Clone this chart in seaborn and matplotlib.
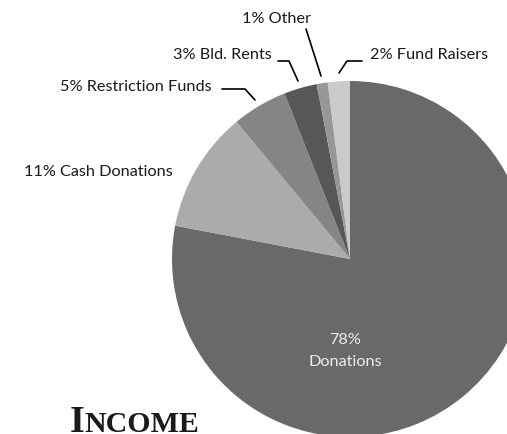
import matplotlib
matplotlib.use("Agg")
import matplotlib.pyplot as plt
import seaborn as sns

# income shares, clockwise from 12 o'clock
categories = ["Donations", "Cash Donations", "Restriction Funds", "Bld. Rents", "Other", "Fund Raisers"]
shares = [78, 11, 5, 3, 1, 2]
grays = ["#696969", "#ababab", "#858585", "#575757", "#979797", "#cacaca"]

W, H = 507, 434

sns.set_theme(style="white")
plt.rcParams["font.family"] = ["Lato", "DejaVu Sans"]

fig = plt.figure(figsize=(W / 100, H / 100), dpi=100)
ax = fig.add_axes([0, 0, 1, 1])

def py(y):
    # pixel row -> data y
    return H - y

ax.pie(shares, colors=grays, startangle=90, counterclock=False,
       center=(350, py(259)), radius=178, wedgeprops=dict(linewidth=0))

ax.set_xlim(0, W)
ax.set_ylim(0, H)
ax.set_aspect("equal")
ax.axis("off")

fs = 11.7
txt = dict(fontsize=fs, color="#1a1a1a")

# outside labels with leader lines
ax.text(276, py(19), f"{shares[4]}% {categories[4]}", ha="center", va="center", **txt)
ax.plot([306, 321], [py(29), py(76)], color="black", lw=1.2)

ax.text(272, py(55), f"{shares[3]}% {categories[3]}", ha="right", va="center", **txt)
ax.plot([278, 289, 298], [py(61), py(61), py(81)], color="black", lw=1.2)

ax.text(370, py(55), f"{shares[5]}% {categories[5]}", ha="left", va="center", **txt)
ax.plot([362, 347, 339], [py(61), py(61), py(73)], color="black", lw=1.2)

ax.text(212, py(87), f"{shares[2]}% {categories[2]}", ha="right", va="center", **txt)
ax.plot([222, 245, 255], [py(89), py(89), py(100)], color="black", lw=1.2)

ax.text(173, py(172), f"{shares[1]}% {categories[1]}", ha="right", va="center", **txt)

# label inside the big slice
ax.text(345, py(340), f"{shares[0]}%", ha="center", va="center", fontsize=fs, color="#ececec")
ax.text(345, py(362), categories[0], ha="center", va="center", fontsize=fs, color="#ececec")

# small-caps title at the bottom edge
ax.text(70, py(432), "I", ha="left", va="baseline", fontsize=27.5,
        family="Liberation Serif", weight="bold", color="#1a1a1a")
ax.text(84, py(432), "NCOME", ha="left", va="baseline", fontsize=21.5,
        family="Liberation Serif", weight="bold", color="#1a1a1a")

fig.savefig("out.png", dpi=100)
